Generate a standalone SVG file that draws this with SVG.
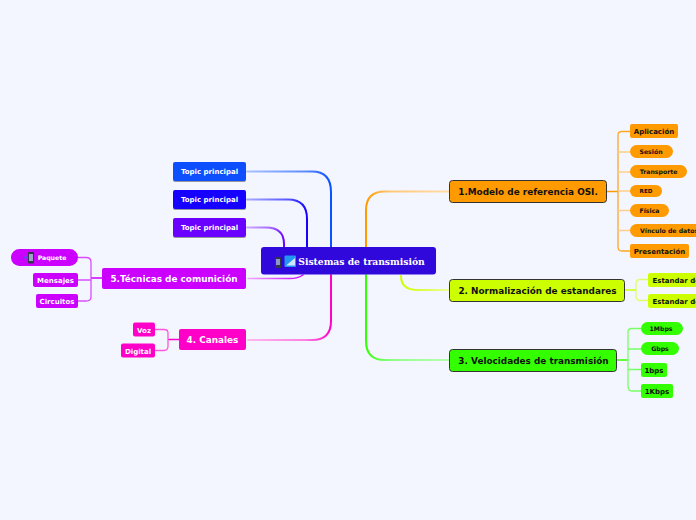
<svg xmlns="http://www.w3.org/2000/svg" width="696" height="520" viewBox="0 0 696 520">
<style>
.t{font-family:"DejaVu Sans",Verdana,sans-serif;font-weight:700;text-anchor:middle}
.l{text-anchor:start}
.w{fill:#fff}.k{fill:#111}
.f7{font-size:7px}.f6{font-size:6.200px}.f9{font-size:8.900px}
.c{fill:none;stroke-linecap:round}
.s{fill:none;stroke-width:1.300}
</style>
<defs>
<filter id="sh" x="-10%" y="-20%" width="120%" height="150%"><feDropShadow dx="0" dy="1" stdDeviation="0.6" flood-color="#555" flood-opacity=".6"/></filter>
<linearGradient id="g1" gradientUnits="userSpaceOnUse" x1="247" y1="0" x2="331" y2="0"><stop offset="0" stop-color="#a9c2ff"/><stop offset=".7" stop-color="#5b8aff"/><stop offset="1" stop-color="#0a50ff"/></linearGradient>
<linearGradient id="g2" gradientUnits="userSpaceOnUse" x1="247" y1="0" x2="307" y2="0"><stop offset="0" stop-color="#a9a9ff"/><stop offset=".7" stop-color="#5555ff"/><stop offset="1" stop-color="#1400ff"/></linearGradient>
<linearGradient id="g3" gradientUnits="userSpaceOnUse" x1="247" y1="0" x2="284" y2="0"><stop offset="0" stop-color="#d0a9ff"/><stop offset=".7" stop-color="#a060ff"/><stop offset="1" stop-color="#6a00ff"/></linearGradient>
<linearGradient id="g5" gradientUnits="userSpaceOnUse" x1="247" y1="0" x2="303" y2="0"><stop offset="0" stop-color="#efa9ff"/><stop offset="1" stop-color="#cc00ff"/></linearGradient>
<linearGradient id="g4" gradientUnits="userSpaceOnUse" x1="247" y1="0" x2="331" y2="0"><stop offset="0" stop-color="#ffb8f2"/><stop offset=".7" stop-color="#ff80e0"/><stop offset="1" stop-color="#ff00c8"/></linearGradient>
<linearGradient id="ga" gradientUnits="userSpaceOnUse" x1="449" y1="0" x2="366" y2="0"><stop offset="0" stop-color="#ffdca8"/><stop offset=".7" stop-color="#ffc878"/><stop offset="1" stop-color="#ff9a00"/></linearGradient>
<linearGradient id="gb" gradientUnits="userSpaceOnUse" x1="449" y1="0" x2="401" y2="0"><stop offset="0" stop-color="#eeff99"/><stop offset="1" stop-color="#ccff00"/></linearGradient>
<linearGradient id="gc" gradientUnits="userSpaceOnUse" x1="449" y1="0" x2="366" y2="0"><stop offset="0" stop-color="#b8ffb0"/><stop offset=".7" stop-color="#90ff88"/><stop offset="1" stop-color="#33ff00"/></linearGradient>
</defs>
<rect width="696" height="520" fill="#f3f6ff"/>
<g id="connectors">
<path class="c" stroke="url(#g1)" stroke-width="2" d="M247 171.500H312Q331 171.500 331 192V247"/>
<path class="c" stroke="url(#g2)" stroke-width="2" d="M247 199.500H288Q307 199.500 307 219V247"/>
<path class="c" stroke="url(#g3)" stroke-width="2" d="M247 227.500H266Q284 227.500 284 244V247"/>
<path class="c" stroke="url(#g5)" stroke-width="1.500" d="M248 278.500H290Q298 278.500 303 275"/>
<path class="c" stroke="url(#g4)" stroke-width="2" d="M248 340H312Q331 340 331 321V275"/>
<path class="c" stroke="url(#ga)" stroke-width="2" d="M449 191.500H385Q366 191.500 366 210V247"/>
<path class="c" stroke="url(#gb)" stroke-width="2" d="M449 290H418Q401 290 401 276"/>
<path class="c" stroke="url(#gc)" stroke-width="2" d="M449 360H385Q366 360 366 341V275"/>
<g stroke="#cc00ff" fill="none"><path stroke-width="1.500" d="M102 278H91"/><path class="s" stroke="#d94dff" d="M78 257.500H86Q91 257.500 91 262V297Q91 301 86 301H78M78 280H91"/></g>
<g stroke="#ff00c8" fill="none"><path stroke-width="1.500" d="M179 339.500H168"/><path class="s" stroke="#ff55dc" d="M155 329.500H164Q168 329.500 168 333V346Q168 350.500 164 350.500H155"/></g>
<g stroke="#ff9a00" fill="none"><path stroke-width="1.500" d="M607 191.500H618"/><path class="s" stroke="#ffa826" d="M630 131.500H622Q618 131.500 618 135V247Q618 251 622 251H630"/><path class="s" stroke="#ffcf8a" d="M618 152H630M618 172H630M618 191H630M618 210.500H630M618 230.500H630"/></g>
<g stroke="#ccff00" fill="none"><path stroke-width="1.500" d="M625 290H636"/><path class="s" stroke="#e0ff66" d="M648 279.500H640Q636 279.500 636 284V296Q636 300.500 640 300.500H648"/></g>
<g stroke="#33ff00" fill="none"><path stroke-width="1.500" d="M617 360H628"/><path class="s" stroke="#77ff66" d="M641 328.500H632Q628 328.500 628 332V386Q628 391 632 391H641M628 349H641M628 369.500H641"/></g>
</g>
<g id="center"><rect x="261" y="247" width="175" height="27.500" rx="3" fill="#3108dc"/>
<rect x="275" y="257" width="6" height="11" rx="1" fill="#33364a"/><rect x="276" y="259" width="4" height="6" fill="#8a97c8"/>
<rect x="284.500" y="255.500" width="11.500" height="11.500" rx="1" fill="#2196f3"/><path d="M286 265.500L295 265.500V258Z" fill="#cfe8ff"/>
<text x="361.500" y="264.500" font-family="'DejaVu Serif',serif" font-weight="700" font-size="9.200" text-anchor="middle" fill="#fff">Sistemas de transmisión</text></g>
<g id="topic1"><rect x="173" y="162" width="73" height="19" rx="2" fill="#0a50ff" filter="url(#sh)"/><text class="t w f7" x="209.500" y="174">Topic principal</text></g>
<g id="topic2"><rect x="173" y="190" width="73" height="19" rx="2" fill="#1400ff" filter="url(#sh)"/><text class="t w f7" x="209.500" y="202">Topic principal</text></g>
<g id="topic3"><rect x="173" y="218" width="73" height="19" rx="2" fill="#6a00ff" filter="url(#sh)"/><text class="t w f7" x="209.500" y="230">Topic principal</text></g>
<g id="n5"><rect x="102" y="268" width="144" height="21" rx="2" fill="#cc00ff"/><text class="t w f9" x="174" y="282">5.Técnicas de comunición</text></g>
<g id="paquete"><rect x="11" y="249" width="67" height="17" rx="8.500" fill="#cc00ff"/><rect x="28" y="252" width="6" height="11.500" rx="1" fill="#33364a"/><rect x="29" y="254" width="4" height="7" fill="#9aa5c8"/><rect x="24" y="256.500" width="4" height="2" fill="#5a4df0"/><text class="t w f6" x="52" y="260">Paquete</text></g>
<g id="mensajes"><rect x="33" y="273" width="45" height="14" rx="2" fill="#cc00ff"/><text class="t w f7" x="55.500" y="283">Mensajes</text></g>
<g id="circuitos"><rect x="36" y="294" width="42" height="14" rx="2" fill="#cc00ff"/><text class="t w f7" x="57" y="304">Circuitos</text></g>
<g id="n4"><rect x="179" y="329" width="67" height="21" rx="2" fill="#ff00c8"/><text class="t w f9" x="212.500" y="343">4. Canales</text></g>
<g id="voz"><rect x="133" y="322.500" width="22" height="14" rx="2" fill="#ff00c8"/><text class="t w f7" x="144" y="332.500">Voz</text></g>
<g id="digital"><rect x="121" y="343.500" width="34" height="14" rx="2" fill="#ff00c8"/><text class="t w f7" x="138" y="353.500">Digital</text></g>
<g id="n1"><rect x="449.500" y="180.500" width="157" height="22" rx="3" fill="#ff9a00" stroke="#333"/><text class="t k f9" x="528" y="195">1.Modelo de referencia OSI.</text></g>
<g id="aplicacion"><rect x="630" y="124" width="48" height="14" rx="2" fill="#ff9a00"/><text class="t k f7" x="654" y="134">Aplicación</text></g>
<g id="sesion"><rect x="630" y="145" width="43" height="13" rx="6.500" fill="#ff9a00"/><text class="t k f6" x="651" y="154">Sesión</text></g>
<g id="transporte"><rect x="630" y="165" width="57" height="13" rx="6.500" fill="#ff9a00"/><text class="t k f6" x="658.500" y="174">Transporte</text></g>
<g id="red"><rect x="630" y="185" width="32" height="12" rx="6" fill="#ff9a00"/><text class="t k" font-size="5.600" x="646" y="193">RED</text></g>
<g id="fisica"><rect x="630" y="204" width="39" height="13" rx="6.500" fill="#ff9a00"/><text class="t k f6" x="649.500" y="213">Física</text></g>
<g id="vinculo"><rect x="630" y="224" width="72" height="13" rx="6.500" fill="#ff9a00"/><text class="t l k f6" x="640" y="233">Vínculo de datos</text></g>
<g id="presentacion"><rect x="630" y="244" width="59" height="14" rx="2" fill="#ff9a00"/><text class="t k f7" x="659.500" y="254">Presentación</text></g>
<g id="n2"><rect x="449.500" y="279.500" width="175" height="22" rx="3" fill="#ccff00" stroke="#333"/><text class="t k f9" x="537.500" y="294">2. Normalización de estandares</text></g>
<g id="est1"><rect x="648" y="273" width="60" height="14" rx="2" fill="#ccff00"/><text class="t l k f7" x="652.500" y="282.500">Estandar de</text></g>
<g id="est2"><rect x="648" y="294" width="60" height="14" rx="2" fill="#ccff00"/><text class="t l k f7" x="652.500" y="303.500">Estandar de</text></g>
<g id="n3"><rect x="449.500" y="349.500" width="167" height="22" rx="3" fill="#33ff00" stroke="#333"/><text class="t k f9" x="533.500" y="364">3. Velocidades de transmisión</text></g>
<g id="mbps"><rect x="641" y="322" width="42" height="13" rx="6.500" fill="#33ff00"/><text class="t k f6" x="661" y="331">1Mbps</text></g>
<g id="gbps"><rect x="641" y="342" width="38" height="13" rx="6.500" fill="#33ff00"/><text class="t k f6" x="660" y="351">Gbps</text></g>
<g id="bps"><rect x="641" y="363" width="26" height="14" rx="2" fill="#33ff00"/><text class="t k f7" x="654" y="372.500">1bps</text></g>
<g id="kbps"><rect x="641" y="384" width="32" height="14" rx="2" fill="#33ff00"/><text class="t k f7" x="657" y="393.500">1Kbps</text></g>
</svg>
